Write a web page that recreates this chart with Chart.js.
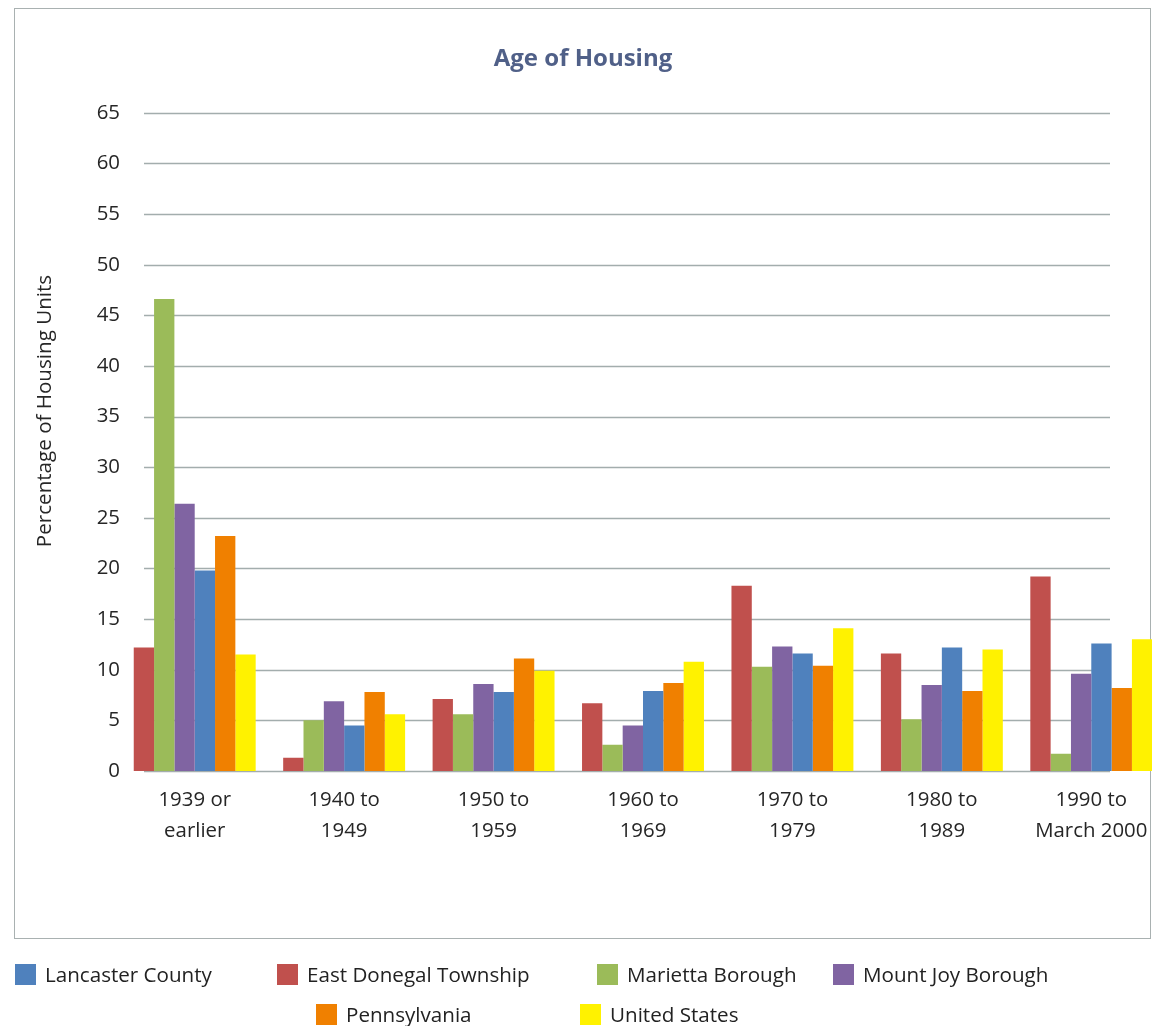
<!DOCTYPE html>
<html>
<head>
<meta charset="utf-8">
<title>Age of Housing</title>
<script src="https://cdn.jsdelivr.net/npm/chart.js@4.4.1/dist/chart.umd.min.js"></script>
<style>
  html, body { margin: 0; padding: 0; background: #fff; overflow: hidden; }
  #wrap { position: relative; width: 1152px; height: 1026px; overflow: hidden; }
  #myChart { position: absolute; left: 0; top: 0; }
  .lg { position: absolute; font-family: "Open Sans", sans-serif; font-size: 20.6px; color: #222; white-space: nowrap; line-height: 22px; }
  .lg span { position: absolute; left: 0; top: 0; width: 21px; height: 21px; }
  .lg b { font-weight: normal; position: absolute; top: -1px; }
</style>
</head>
<body>
<div id="wrap">
  <canvas id="myChart" width="1180" height="1026"></canvas>
  <div id="legend"></div>
</div>
<script>
// categories (x axis)
let periods = [
  ["1939 or", "earlier"],
  ["1940 to", "1949"],
  ["1950 to", "1959"],
  ["1960 to", "1969"],
  ["1970 to", "1979"],
  ["1980 to", "1989"],
  ["1990 to", "March 2000"],
];

// percentage of housing units
let eastDonegal = [12.2, 1.3, 7.1, 6.7, 18.3, 11.6, 19.2];
let marietta = [46.6, 5.0, 5.6, 2.6, 10.3, 5.1, 1.7];
let mountJoy = [26.4, 6.9, 8.6, 4.5, 12.3, 8.5, 9.6];
let lancaster = [19.8, 4.5, 7.8, 7.9, 11.6, 12.2, 12.6];
let pennsylvania = [23.2, 7.8, 11.1, 8.7, 10.4, 7.9, 8.2];
let unitedStates = [11.5, 5.6, 9.9, 10.8, 14.1, 12.0, 13.0];

let yTicks = [0, 5, 10, 15, 20, 25, 30, 35, 40, 45, 50, 55, 60, 65];

const fontFam = '"Open Sans", "DejaVu Sans", sans-serif';

// draws the grey frame around the chart and the y axis title
const frame = {
  id: "frame",
  beforeDraw(chart) {
    const c = chart.ctx;
    c.save();
    c.strokeStyle = "#a9b1b1";
    c.lineWidth = 1;
    c.strokeRect(14.5, 8.5, 1136, 930);
    c.translate(45, 411);
    c.rotate(-Math.PI / 2);
    c.fillStyle = "#262626";
    c.font = "20.6px " + fontFam;
    c.textAlign = "center";
    c.textBaseline = "middle";
    c.fillText("Percentage of Housing Units", 0, 0);
    c.restore();
  },
};

// horizontal gridlines, only across the plot box (bars spill over it)
const hGrid = {
  id: "hGrid",
  beforeDatasetsDraw(chart) {
    const c = chart.ctx;
    const y = chart.scales.y;
    c.save();
    c.strokeStyle = "#a3adad";
    c.lineWidth = 1.5;
    yTicks.forEach((t) => {
      const py = Math.round(y.getPixelForValue(t)) + 0.5;
      c.beginPath();
      c.moveTo(144, py);
      c.lineTo(1110, py);
      c.stroke();
    });
    c.restore();
  },
};

let ctx = document.getElementById("myChart").getContext("2d");
let housingChart = new Chart(ctx, {
  type: "bar",
  data: {
    labels: periods,
    datasets: [
      { label: "East Donegal Township", data: eastDonegal, backgroundColor: "#c0504d" },
      { label: "Marietta Borough", data: marietta, backgroundColor: "#9bbb59" },
      { label: "Mount Joy Borough", data: mountJoy, backgroundColor: "#8064a2" },
      { label: "Lancaster County", data: lancaster, backgroundColor: "#4f81bd" },
      { label: "Pennsylvania", data: pennsylvania, backgroundColor: "#f08000" },
      { label: "United States", data: unitedStates, backgroundColor: "#fff200" },
    ],
  },
  options: {
    responsive: false,
    animation: false,
    devicePixelRatio: 1,
    datasets: {
      bar: { barPercentage: 1, categoryPercentage: 0.816, borderWidth: 0 },
    },
    layout: { padding: { left: 0, right: 14, top: 0, bottom: 175 } },
    plugins: {
      legend: { display: false },
      tooltip: { enabled: false },
      title: {
        display: true,
        text: "Age of Housing",
        color: "#506088",
        font: { family: fontFam, size: 24, weight: "bold" },
        padding: { top: 45, bottom: 39 },
      },
    },
    scales: {
      x: {
        grid: { display: false, drawTicks: false },
        border: { display: false },
        ticks: {
          color: "#262626",
          font: { family: fontFam, size: 20.4, lineHeight: 1.5 },
          padding: 14,
          maxRotation: 0,
          autoSkip: false,
        },
        afterFit(scale) { scale.height = 80; },
      },
      y: {
        min: 0,
        max: 65,
        grid: { display: false, drawTicks: false },
        border: { display: false },
        ticks: {
          stepSize: 5,
          color: "#262626",
          font: { family: fontFam, size: 20.4 },
          padding: 0,
        },
        afterFit(scale) { scale.width = 120; },
      },
    },
  },
  plugins: [frame, hGrid],
});

// legend in the reference's order and placement
let legendItems = [
  { name: "Lancaster County", color: "#4f81bd", x: 15, y: 964 },
  { name: "East Donegal Township", color: "#c0504d", x: 277, y: 964 },
  { name: "Marietta Borough", color: "#9bbb59", x: 597, y: 964 },
  { name: "Mount Joy Borough", color: "#8064a2", x: 833, y: 964 },
  { name: "Pennsylvania", color: "#f08000", x: 316, y: 1004 },
  { name: "United States", color: "#fff200", x: 580, y: 1004 },
];
let lg = document.getElementById("legend");
legendItems.forEach((it) => {
  let d = document.createElement("div");
  d.className = "lg";
  d.style.left = it.x + "px";
  d.style.top = it.y + "px";
  d.innerHTML = '<span style="background:' + it.color + '"></span><b style="left:30px">' + it.name + "</b>";
  lg.appendChild(d);
});
</script>
</body>
</html>
